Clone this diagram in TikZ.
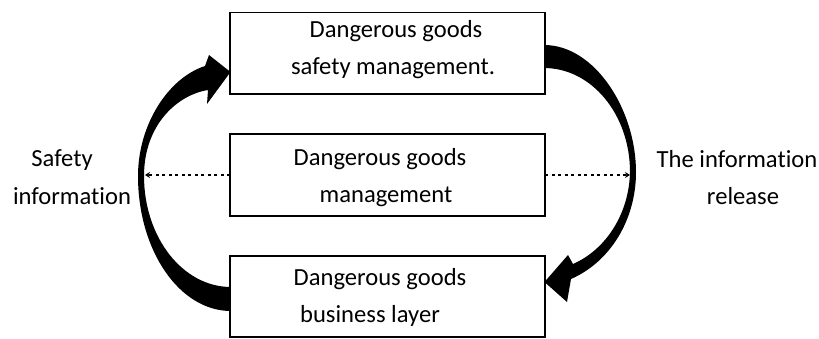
\documentclass[tikz,border=0pt]{standalone}
\usepackage{fontspec}
\setmainfont{Carlito}[Ligatures=NoCommon]
\usetikzlibrary{arrows.meta,calc,backgrounds}
\begin{document}
\begin{tikzpicture}[x=1pt,y=1pt,
  box/.style={draw=black, line width=1.6pt, fill=white, minimum width=315pt, minimum height=81.5pt, inner sep=0pt, outer sep=0pt},
  txt/.style={font=\fontsize{24.6}{30}\selectfont, text=black, inner sep=0pt, anchor=base},
  fat/.style={fill=black, draw=none},
  dots/.style={line width=1.3pt, dash pattern=on 3pt off 3.5pt, -{Stealth[length=5pt,width=6pt]}}
]
\useasboundingbox (0,0) rectangle (819,338);

% boxes
\node[box] (top) at (387.5,284.7) {};
\node[box] (mid) at (387.5,163) {};
\node[box] (bot) at (387.5,41.5) {};

% box texts
\node[txt] (topA) at (396,300.7) {Dangerous goods};
\node[txt] (topB) at (393,263) {safety management.};
\node[txt] (midA) at (380,173) {Dangerous goods};
\node[txt] (midB) at (386,135.3) {management};
\node[txt] (botA) at (380,53) {Dangerous goods};
\node[txt] (botB) at (370,15.7) {business layer};

% side labels
\node[txt] (leftA) at (62,171.3) {Safety};
\node[txt] (leftB) at (72,134) {information};
\node[txt] (rightA) at (737,170.7) {The information};
\node[txt] (rightB) at (743,134) {release};

% curved block arrows
\begin{scope}[on background layer]
\fill[fat] ($(bot.west)+(1,-14.5)$) .. controls (179,27) and (138,88) .. (138,162)
  .. controls (138,213) and (168,260) .. (205,272)
  -- (209,283) -- ($(top.west)+(0.5,-18.7)$) -- (207,234) -- (208,248)
  .. controls (177,243) and (144,213) .. (144,162)
  .. controls (144,101) and (182.5,51) .. ($(bot.west)+(1,9.5)$) -- cycle;
\fill[fat] ($(top.east)+(-1,8.3)$) .. controls (595,293) and (636,228) .. (636,166)
  .. controls (636,118) and (610,76) .. (571,59)
  -- (567,36) -- ($(bot.east)+(-0.5,14.5)$) -- (568,83) -- (573,74)
  .. controls (605,88) and (629,123) .. (630,166)
  .. controls (630,223) and (592,270) .. ($(top.east)+(-1,-14.7)$) -- cycle;
\end{scope}

% dotted connectors
\coordinate (lend) at (145,163);
\coordinate (rend) at (630,163);
\draw[dots] (mid.west) -- (lend);
\draw[dots] (mid.east) -- (rend);
\end{tikzpicture}
\end{document}
